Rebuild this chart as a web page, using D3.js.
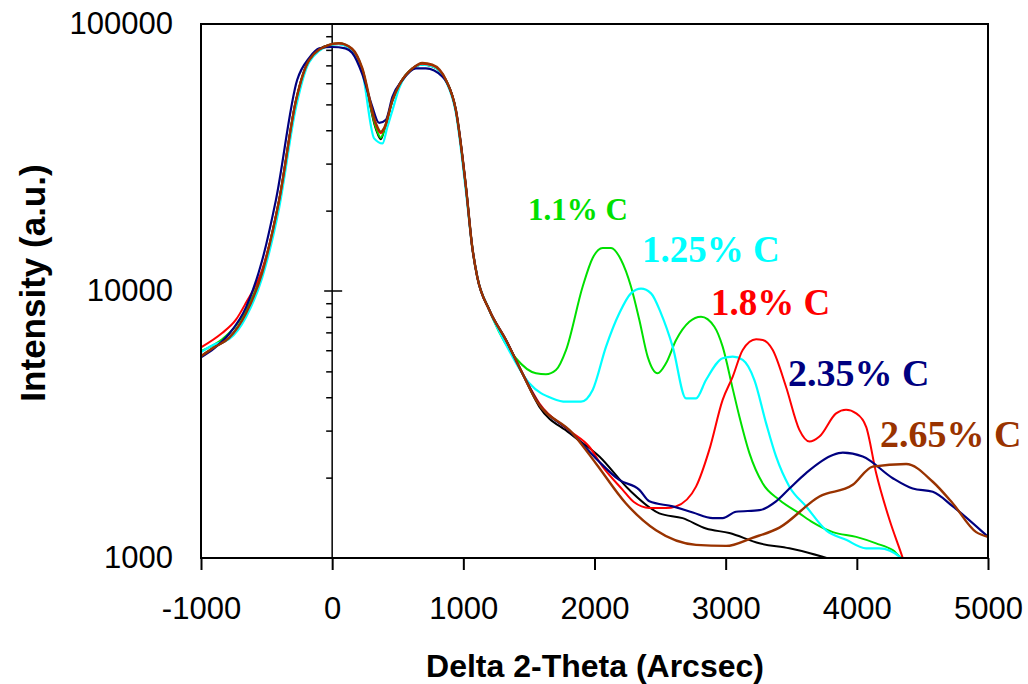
<!DOCTYPE html>
<html>
<head>
<meta charset="utf-8">
<title>Delta 2-Theta intensity</title>
<script src="https://cdn.jsdelivr.net/npm/d3@7/dist/d3.min.js"></script>
<style>
  body { margin: 0; background: #fff; }
  svg text { font-family: "Liberation Sans", Arial, sans-serif; }
  .lbl { font-family: "Liberation Serif", "Times New Roman", serif !important; font-weight: bold; }
</style>
</head>
<body>
<script>
// ---- data (x in arcsec, intensity in a.u.) ----
var xTicks = [-1000, 0, 1000, 2000, 3000, 4000, 5000]
var yTicks = [1000, 10000, 100000]
var seriesNames = ['0% C', '1.1% C', '1.25% C', '1.8% C', '2.35% C', '2.65% C']

var blackX = [-1000,-900,-786,-656,-534,-404,-275,-175,-23,50,152,229,333,371,397,460,511,613,687,763,867,943,1020,1068,1106,1198,1325,1449,1579,1808,2037,2265,2494,2672,2850,3028,3257,3486,3650,3770]
var blackY = [5700,6150,6670,8270,11700,21900,51900,73300,83500,84200,80000,67300,40500,37000,40000,51900,59100,68200,70500,69500,61700,47600,24500,14600,11300,8490,6550,4930,3690,2940,2400,1800,1470,1410,1290,1240,1135,1087,1040,1000]

var greenX = [-1000,-839,-735,-656,-534,-404,-275,-175,-23,50,152,229,333,371,397,460,511,613,687,763,867,943,1020,1068,1106,1198,1274,1401,1554,1630,1706,1783,1910,1986,2062,2126,2202,2278,2342,2405,2481,2545,2622,2723,2812,2914,2977,3054,3105,3181,3283,3410,3562,3664,3817,3995,4147,4274,4350,4440]
var greenY = [5950,6600,7400,8500,11800,21900,51900,73300,83500,84500,80500,68000,41000,37500,40000,51900,59100,68200,70500,69500,61700,47600,24500,14600,11300,8490,7000,5600,4920,4880,5060,6010,10400,13300,14500,14500,13100,10400,7790,5680,4920,5360,6550,7670,8010,7350,6190,4300,3380,2470,1900,1650,1470,1360,1250,1200,1135,1070,1000,995]

var cyanX = [-1000,-900,-786,-656,-534,-404,-275,-175,-23,50,152,229,320,384,420,460,511,613,687,763,867,943,1020,1068,1106,1198,1325,1503,1680,1783,1897,1986,2088,2189,2278,2355,2431,2507,2596,2698,2774,2850,2977,3054,3130,3219,3308,3384,3486,3613,3766,3918,4071,4172,4338,4370]
var cyanY = [5900,6300,6600,8000,11200,20500,49000,72000,83000,84000,79500,66500,37300,35700,41000,47600,57500,68000,70500,69500,61000,46500,23500,14600,11300,8490,6300,4510,3960,3850,3850,4260,6190,8250,9800,10200,9800,8250,6190,3960,3960,4640,5600,5680,5520,4640,3200,2400,1850,1560,1270,1170,1087,1087,1000,960]

var redX = [-1000,-839,-735,-658,-534,-404,-275,-175,-23,50,152,229,333,371,397,460,511,613,687,763,867,943,1020,1068,1106,1198,1325,1449,1579,1808,1960,2062,2215,2300,2418,2545,2620,2774,2875,2977,3054,3130,3232,3283,3359,3460,3562,3639,3715,3842,3918,3995,4071,4147,4249,4350,4380]
var redY = [6150,6960,7790,9020,12000,21900,51900,73300,83500,84500,80500,68000,42000,39000,40500,51900,59100,68200,71000,70000,61700,47600,24500,14600,11300,8490,6550,4930,3800,3000,2610,2200,1800,1620,1540,1540,1560,1850,2540,3910,4780,6010,6590,6550,6010,4380,3020,2730,2850,3480,3590,3480,3100,2080,1390,1000,900]

var navyX = [-1000,-900,-786,-656,-534,-429,-267,-175,-99,0,100,152,229,300,358,410,460,536,638,714,841,943,1020,1068,1106,1198,1325,1449,1579,1808,2011,2189,2342,2418,2596,2750,2901,2977,3079,3257,3384,3486,3613,3817,3893,4045,4274,4426,4579,4732,5000]
var navyY = [5650,6100,6900,8700,13000,21900,61700,74600,81000,82000,81000,78000,65000,50000,42600,43800,53400,61700,68200,68200,63500,47600,24500,14600,11300,8490,6550,4930,3750,3000,2360,1960,1800,1630,1560,1480,1410,1410,1490,1510,1630,1820,2080,2430,2480,2400,1990,1820,1770,1560,1200]

var brownX = [-1000,-900,-786,-656,-534,-404,-275,-175,-23,50,152,229,333,371,397,460,511,613,687,763,867,943,1020,1068,1106,1198,1325,1449,1553,1831,2011,2240,2469,2774,3003,3204,3410,3715,3969,4121,4376,4579,4732,4910,5000]
var brownY = [5700,6150,6670,8270,11700,21900,51900,73300,83500,84800,80800,68500,42500,39500,40800,51900,59100,68200,71400,70400,61700,47600,24500,14600,11300,8490,6550,4930,3910,2940,2260,1600,1270,1120,1110,1190,1300,1700,1880,2200,2250,1930,1600,1250,1200]

// ---- layout ----
var width = 1028, height = 684
var plot = {left: 201, right: 988, top: 24, bottom: 558}

var svg = d3.select('body').append('svg').attr('width', width).attr('height', height)

var x = d3.scaleLinear().domain([-1000, 5000]).range([plot.left, plot.right])
var y = d3.scaleLog().domain([1000, 100000]).range([plot.bottom, plot.top])

svg.append('clipPath').attr('id', 'clip')
  .append('rect')
  .attr('x', plot.left).attr('y', plot.top)
  .attr('width', plot.right - plot.left).attr('height', plot.bottom - plot.top)

// vertical axis through x = 0 with minor ticks
var minor = []
for (var d = 1; d <= 2; d++) {
  for (var m = 2; m <= 9; m++) minor.push(m * Math.pow(10, d + 2))
}
var yMinor = d3.axisLeft(y).tickValues(minor).tickSize(6).tickFormat('')
var gMinor = svg.append('g').attr('transform', 'translate(' + x(0) + ',0)').call(yMinor)
gMinor.select('.domain').remove()
gMinor.selectAll('line').attr('stroke', '#000').attr('stroke-width', 1.5)

svg.append('line')
  .attr('x1', x(0)).attr('x2', x(0))
  .attr('y1', plot.top).attr('y2', plot.bottom)
  .attr('stroke', '#000').attr('stroke-width', 1.5)

// major tick at 10000 crosses the axis
svg.append('line')
  .attr('x1', x(0) - 8).attr('x2', x(0) + 10)
  .attr('y1', y(10000)).attr('y2', y(10000))
  .attr('stroke', '#000').attr('stroke-width', 1.5)

// ---- series ----
var series = [
  {name: seriesNames[0], xs: blackX, ys: blackY, color: '#000000', w: 2},
  {name: seriesNames[1], xs: greenX, ys: greenY, color: '#00e000', w: 2},
  {name: seriesNames[2], xs: cyanX, ys: cyanY, color: '#00ffff', w: 2.2},
  {name: seriesNames[3], xs: redX, ys: redY, color: '#ff0000', w: 2},
  {name: seriesNames[4], xs: navyX, ys: navyY, color: '#000080', w: 2.2},
  {name: seriesNames[5], xs: brownX, ys: brownY, color: '#993300', w: 2.4}
]

var line = d3.line()
  .x(function(p) { return x(p[0]) })
  .y(function(p) { return y(p[1]) })
  .curve(d3.curveMonotoneX)

svg.append('g').attr('clip-path', 'url(#clip)')
  .selectAll('path')
  .data(series)
  .enter()
  .append('path')
  .attr('d', function(s) { return line(d3.zip(s.xs, s.ys)) })
  .attr('fill', 'none')
  .attr('stroke', function(s) { return s.color })
  .attr('stroke-width', function(s) { return s.w })
  .attr('stroke-linejoin', 'round')

// ---- series labels ----
var labels = [
  {i: 1, x: 528, y: 220, size: 31},
  {i: 2, x: 642, y: 262, size: 37},
  {i: 3, x: 711, y: 315, size: 37},
  {i: 4, x: 788, y: 386, size: 38},
  {i: 5, x: 880, y: 447, size: 38}
]
svg.append('g').selectAll('text')
  .data(labels)
  .enter()
  .append('text')
  .attr('class', 'lbl')
  .attr('x', function(l) { return l.x })
  .attr('y', function(l) { return l.y })
  .attr('font-size', function(l) { return l.size })
  .attr('fill', function(l) { return series[l.i].color })
  .text(function(l) { return series[l.i].name })

// ---- frame ----
svg.append('rect')
  .attr('x', plot.left).attr('y', plot.top)
  .attr('width', plot.right - plot.left).attr('height', plot.bottom - plot.top)
  .attr('fill', 'none').attr('stroke', '#000').attr('stroke-width', 2)

// x axis (plain hyphen for negatives, as in the original)
var xAxis = d3.axisBottom(x).tickValues(xTicks).tickSize(12).tickPadding(27)
  .tickFormat(function(v) { return String(v) })
var gx = svg.append('g').attr('transform', 'translate(0,' + plot.bottom + ')').call(xAxis)
gx.select('.domain').remove()
gx.selectAll('line').attr('stroke', '#000').attr('stroke-width', 2)
gx.selectAll('text').attr('font-size', 31).attr('fill', '#000')
  .attr('font-family', '"Liberation Sans", Arial, sans-serif')

// y axis labels at frame edge
var yAxis = d3.axisLeft(y).tickValues(yTicks).tickSize(0).tickPadding(28)
  .tickFormat(function(v) { return String(v) })
var gy = svg.append('g').attr('transform', 'translate(' + plot.left + ',0)').call(yAxis)
gy.select('.domain').remove()
gy.selectAll('text').attr('font-size', 31).attr('fill', '#000')
  .attr('font-family', '"Liberation Sans", Arial, sans-serif')

// axis titles
svg.append('text')
  .attr('x', 595).attr('y', 677)
  .attr('text-anchor', 'middle')
  .attr('font-size', 32).attr('font-weight', 'bold')
  .text('Delta 2-Theta (Arcsec)')

svg.append('text')
  .attr('transform', 'translate(45,283) rotate(-90)')
  .attr('text-anchor', 'middle')
  .attr('font-size', 35).attr('font-weight', 'bold')
  .text('Intensity (a.u.)')
</script>
</body>
</html>
